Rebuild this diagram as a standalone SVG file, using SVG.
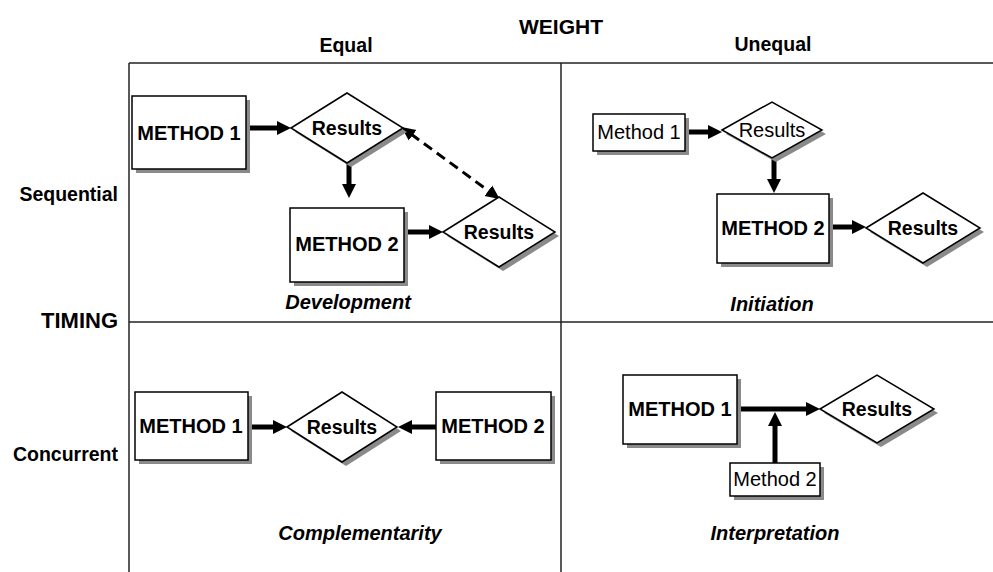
<svg xmlns="http://www.w3.org/2000/svg" width="993" height="572" viewBox="0 0 993 572">
<defs>
<style>
text{font-family:"Liberation Sans",Arial,sans-serif;fill:#000;text-anchor:middle}
.b{font-weight:bold;font-size:20px}
.r{font-size:20px}
.lab{font-weight:bold;font-style:italic;font-size:20px}
.hdr{font-weight:bold;font-size:19.5px}
.box{fill:#fff;stroke:#000;stroke-width:1.5}
.sh{fill:#8a8a8a;stroke:none}
.grid{stroke:#222;stroke-width:1.5;fill:none}
.arr{stroke:#000;stroke-width:5;fill:none;marker-end:url(#ah)}
.dash{stroke:#000;stroke-width:3;stroke-dasharray:10,6;fill:none;marker-start:url(#ahs);marker-end:url(#ahs)}
</style>
<marker id="ah" markerUnits="userSpaceOnUse" markerWidth="15" markerHeight="15" refX="1" refY="7.5" orient="auto">
<path d="M0,0.5 L14,7.5 L0,14.5 z" fill="#000"/>
</marker>
<marker id="ahs" markerUnits="userSpaceOnUse" markerWidth="15" markerHeight="15" refX="2" refY="7" orient="auto-start-reverse">
<path d="M0,0.5 L14,7 L0,13.5 z" fill="#000"/>
</marker>
</defs>
<rect width="993" height="572" fill="#fff"/>

<g id="axes">
<line class="grid" x1="129" y1="63" x2="993" y2="63"/>
<line class="grid" x1="129" y1="63" x2="129" y2="572"/>
<line class="grid" x1="561" y1="63" x2="561" y2="572"/>
<line class="grid" x1="129" y1="322" x2="993" y2="322"/>
<text class="hdr" x="561" y="34" style="font-size:21px">WEIGHT</text>
<text class="hdr" x="346" y="52">Equal</text>
<text class="hdr" x="773" y="51">Unequal</text>
<text class="hdr" x="118" y="201" style="text-anchor:end">Sequential</text>
<text class="hdr" x="118" y="328" style="text-anchor:end;font-size:22px">TIMING</text>
<text class="hdr" x="118" y="461" style="text-anchor:end">Concurrent</text>
</g>

<g id="connectors">
<line class="arr" x1="248" y1="128" x2="278" y2="128"/>
<line class="arr" x1="349" y1="164" x2="349" y2="185"/>
<line class="arr" x1="405" y1="232" x2="430" y2="232"/>
<line class="dash" x1="411" y1="134" x2="490" y2="192"/>
<line class="arr" x1="686" y1="132" x2="709" y2="132"/>
<line class="arr" x1="774" y1="158" x2="774" y2="180"/>
<line class="arr" x1="830" y1="227" x2="853" y2="227"/>
<line class="arr" x1="249" y1="427" x2="274" y2="427"/>
<line class="arr" x1="436" y1="427" x2="411" y2="427"/>
<line class="arr" x1="738" y1="409" x2="807" y2="409"/>
<line class="arr" x1="775" y1="463" x2="775" y2="425"/>
</g>

<g id="q1-method1">
<rect class="sh" x="136" y="100" width="114" height="73"/>
<rect class="box" x="132" y="96" width="114" height="73"/>
<text class="b" x="189" y="140">METHOD 1</text>
</g>
<g id="q1-results1">
<polygon class="sh" points="295,132 351,97 407,132 351,167"/>
<polygon class="box" points="291,128 347,93 403,128 347,163"/>
<text class="b" x="347" y="135" style="font-size:19.5px">Results</text>
</g>
<g id="q1-method2">
<rect class="sh" x="294" y="212" width="114" height="74"/>
<rect class="box" x="290" y="208" width="114" height="74"/>
<text class="b" x="347" y="251">METHOD 2</text>
</g>
<g id="q1-results2">
<polygon class="sh" points="447,236 503,201 559,236 503,271"/>
<polygon class="box" points="443,232 499,197 555,232 499,267"/>
<text class="b" x="499" y="239" style="font-size:19.5px">Results</text>
</g>
<text class="lab" x="348" y="309">Development</text>

<g id="q2-method1">
<rect class="sh" x="597" y="118" width="92" height="37"/>
<rect class="box" x="593" y="114" width="92" height="37"/>
<text class="r" x="639" y="139">Method 1</text>
</g>
<g id="q2-results1">
<polygon class="sh" points="726,134 776,106 826,134 776,162"/>
<polygon class="box" points="722,130 772,102 822,130 772,158"/>
<text class="r" x="772" y="137">Results</text>
</g>
<g id="q2-method2">
<rect class="sh" x="721" y="198" width="112" height="69"/>
<rect class="box" x="717" y="194" width="112" height="69"/>
<text class="b" x="773" y="235">METHOD 2</text>
</g>
<g id="q2-results2">
<polygon class="sh" points="870,232 927,197 984,232 927,267"/>
<polygon class="box" points="866,228 923,193 980,228 923,263"/>
<text class="b" x="923" y="235" style="font-size:19.5px">Results</text>
</g>
<text class="lab" x="772" y="311">Initiation</text>

<g id="q3-method1">
<rect class="sh" x="139" y="396" width="113" height="68"/>
<rect class="box" x="135" y="392" width="113" height="68"/>
<text class="b" x="191" y="433">METHOD 1</text>
</g>
<g id="q3-results">
<polygon class="sh" points="291,431 346,396 401,431 346,466"/>
<polygon class="box" points="287,427 342,392 397,427 342,462"/>
<text class="b" x="342" y="434" style="font-size:19.5px">Results</text>
</g>
<g id="q3-method2">
<rect class="sh" x="440" y="396" width="115" height="68"/>
<rect class="box" x="436" y="392" width="115" height="68"/>
<text class="b" x="493" y="433">METHOD 2</text>
</g>
<text class="lab" x="360" y="540">Complementarity</text>

<g id="q4-method1">
<rect class="sh" x="627" y="379" width="114" height="69"/>
<rect class="box" x="623" y="375" width="114" height="69"/>
<text class="b" x="680" y="416">METHOD 1</text>
</g>
<g id="q4-results">
<polygon class="sh" points="824,413 881,379 938,413 881,447"/>
<polygon class="box" points="820,409 877,375 934,409 877,443"/>
<text class="b" x="877" y="416" style="font-size:19.5px">Results</text>
</g>
<g id="q4-method2">
<rect class="sh" x="734" y="467" width="90" height="33"/>
<rect class="box" x="730" y="463" width="90" height="33"/>
<text class="r" x="775" y="486">Method 2</text>
</g>
<text class="lab" x="775" y="540">Interpretation</text>
</svg>
